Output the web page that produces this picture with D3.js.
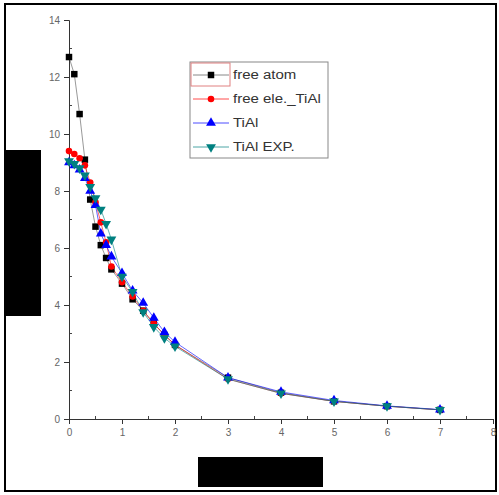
<!DOCTYPE html>
<html>
<head>
<meta charset="utf-8">
<script src="https://cdn.jsdelivr.net/npm/d3@7"></script>
<style>
  body { margin: 0; background: #fff; }
  svg { display: block; font-family: Arial, "Liberation Sans", sans-serif; }
</style>
</head>
<body>
<svg id="chart" width="499" height="495"></svg>
<script>
// x values (shared by all series)
var xs = [0, 0.1, 0.2, 0.3, 0.4, 0.5, 0.6, 0.7, 0.8, 1.0, 1.2, 1.4, 1.6, 1.8, 2, 3, 4, 5, 6, 7];

var freeAtom = [12.7, 12.1, 10.7, 9.1, 7.7, 6.75, 6.1, 5.65, 5.25, 4.75, 4.2, 3.8, 3.35, 2.95, 2.6, 1.45, 0.92, 0.62, 0.45, 0.32];
var freeEle  = [9.4, 9.3, 9.15, 8.9, 8.3, 7.6, 6.9, 6.2, 5.35, 4.8, 4.3, 3.8, 3.35, 2.95, 2.6, 1.4, 0.9, 0.62, 0.45, 0.32];
var tiAl     = [9.0, 8.9, 8.75, 8.45, 8.0, 7.5, 6.5, 6.1, 5.7, 5.12, 4.5, 4.07, 3.55, 3.05, 2.7, 1.45, 0.95, 0.65, 0.46, 0.33];
var tiAlExp  = [9.05, 8.95, 8.8, 8.55, 8.15, 7.75, 7.35, 6.85, 6.3, 5.0, 4.46, 3.75, 3.23, 2.84, 2.55, 1.4, 0.9, 0.62, 0.45, 0.32];

var seriesNames = ["free atom", "free ele._TiAl", "TiAl", "TiAl EXP."];
var xTicks = [0, 1, 2, 3, 4, 5, 6, 7, 8];
var yTicks = [0, 2, 4, 6, 8, 10, 12, 14];

var series = [
  {name: seriesNames[0], vals: freeAtom, color: "#000000", line: "#555555", sym: d3.symbolSquare, rot: 0},
  {name: seriesNames[1], vals: freeEle, color: "#ff0000", line: "#ff0000", sym: d3.symbolCircle, rot: 0},
  {name: seriesNames[2], vals: tiAl, color: "#0000ff", line: "#0000ff", sym: d3.symbolTriangle, rot: 0},
  {name: seriesNames[3], vals: tiAlExp, color: "#008080", line: "#008080", sym: d3.symbolTriangle, rot: 180}
];

var svg = d3.select("#chart");

// outer frame
svg.append("rect")
  .attr("x", 5).attr("y", 4).attr("width", 491).attr("height", 487)
  .attr("fill", "none").attr("stroke", "#000").attr("stroke-width", 2);

var x = d3.scaleLinear().domain([0, 8]).range([69, 493]);
var y = d3.scaleLinear().domain([0, 14]).range([419, 20]);

// minor ticks
var xMinor = d3.range(0.5, 8, 1);
var yMinor = d3.range(1, 14, 2);

svg.append("g").selectAll("line").data(xMinor).enter().append("line")
  .attr("x1", function(d) { return x(d); }).attr("x2", function(d) { return x(d); })
  .attr("y1", y(0) - 3).attr("y2", y(0))
  .attr("stroke", "#444");
svg.append("g").selectAll("line").data(yMinor).enter().append("line")
  .attr("x1", x(0)).attr("x2", x(0) + 3)
  .attr("y1", function(d) { return y(d); }).attr("y2", function(d) { return y(d); })
  .attr("stroke", "#444");

// axes
var xAxis = svg.append("g")
  .attr("transform", "translate(0," + y(0) + ")")
  .call(d3.axisBottom(x).tickValues(xTicks).tickSize(5).tickPadding(5).tickFormat(d3.format("d")));
var yAxis = svg.append("g")
  .attr("transform", "translate(" + x(0) + ",0)")
  .call(d3.axisLeft(y).tickValues(yTicks).tickSize(5).tickPadding(4).tickFormat(d3.format("d")));

[xAxis, yAxis].forEach(function(g) {
  g.select(".domain").attr("stroke", "#333");
  g.selectAll(".tick line").attr("stroke", "#333");
  g.selectAll(".tick text").attr("fill", "#666").attr("font-size", 10);
});

// lines
var line = d3.line()
  .x(function(d, i) { return x(xs[i]); })
  .y(function(d) { return y(d); });

series.forEach(function(s) {
  svg.append("path")
    .datum(s.vals)
    .attr("d", line)
    .attr("fill", "none")
    .attr("stroke", s.line)
    .attr("stroke-opacity", 0.6)
    .attr("stroke-width", 1);
});

// markers
series.forEach(function(s) {
  var sym = d3.symbol().type(s.sym).size(s.sym === d3.symbolCircle ? 34 : 42);
  svg.append("g").selectAll("path")
    .data(s.vals).enter().append("path")
    .attr("d", sym)
    .attr("transform", function(d, i) {
      return "translate(" + x(xs[i]) + "," + y(d) + ") rotate(" + s.rot + ")";
    })
    .attr("fill", s.color);
});

// legend
var lg = svg.append("g");
lg.append("rect")
  .attr("x", 190).attr("y", 62).attr("width", 138).attr("height", 96)
  .attr("fill", "#fff").attr("stroke", "#888").attr("stroke-width", 1);
lg.append("rect")
  .attr("x", 191).attr("y", 63).attr("width", 39).attr("height", 23)
  .attr("fill", "none").attr("stroke", "#e08080").attr("stroke-width", 1);

series.forEach(function(s, i) {
  var ly = 75 + i * 24;
  lg.append("line")
    .attr("x1", 193).attr("x2", 229).attr("y1", ly).attr("y2", ly)
    .attr("stroke", s.line).attr("stroke-opacity", 0.7);
  lg.append("path")
    .attr("d", d3.symbol().type(s.sym).size(s.sym === d3.symbolCircle ? 34 : 42))
    .attr("transform", "translate(211," + ly + ") rotate(" + s.rot + ")")
    .attr("fill", s.color);
  lg.append("text")
    .attr("transform", "translate(233," + (ly + 4) + ") scale(1.25,1)")
    .attr("font-size", 12)
    .attr("fill", "#333")
    .text(s.name);
});

// redacted axis title blocks
svg.append("rect").attr("x", 6).attr("y", 150).attr("width", 35).attr("height", 166).attr("fill", "#000");
svg.append("rect").attr("x", 198).attr("y", 457).attr("width", 125).attr("height", 30).attr("fill", "#000");
</script>
</body>
</html>
